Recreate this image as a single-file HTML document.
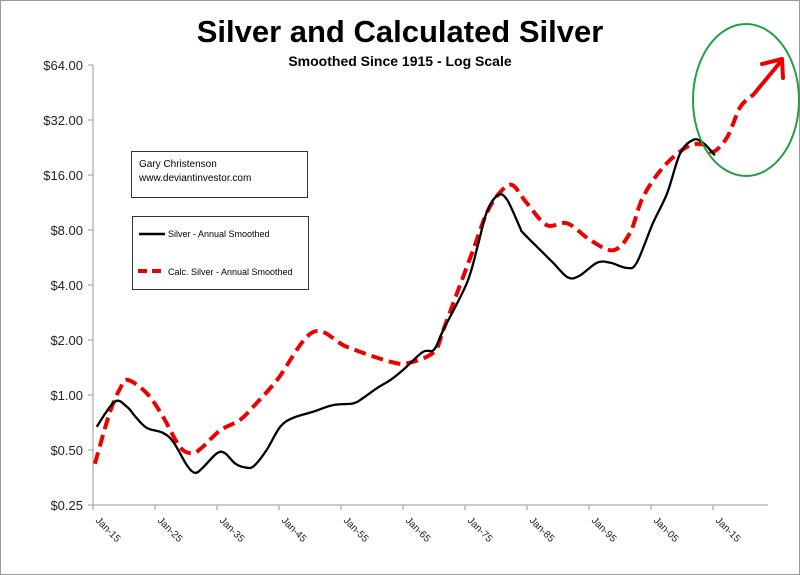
<!DOCTYPE html>
<html><head><meta charset="utf-8"><style>
body{margin:0;background:#fff;}
svg{display:block;font-family:"Liberation Sans",sans-serif;}
</style></head><body>
<svg width="800" height="575" viewBox="0 0 800 575">
<rect x="0.5" y="0.5" width="799" height="574" fill="#fff" stroke="#999"/>
<text x="400" y="42" text-anchor="middle" font-size="31" font-weight="bold">Silver and Calculated Silver</text>
<text x="400" y="66" text-anchor="middle" font-size="14" font-weight="bold">Smoothed Since 1915 - Log Scale</text>
<g id="axes"></g>
<g id="series"></g>
<g>
<rect x="131.5" y="151.5" width="176" height="46" fill="#fff" stroke="#333"/>
<text x="139" y="167" font-size="10">Gary Christenson</text>
<text x="139" y="181" font-size="10">www.deviantinvestor.com</text>
</g>
<g>
<rect x="132.5" y="216.5" width="176" height="73" fill="#fff" stroke="#333"/>
<g><line x1="139" y1="234" x2="165" y2="234" stroke="#000" stroke-width="2.5"/><text x="168" y="237" font-size="9">Silver - Annual Smoothed</text></g>
<g><line x1="138" y1="271" x2="165" y2="271" stroke="#e00" stroke-width="4" stroke-dasharray="9,5"/><text x="168" y="275" font-size="9">Calc. Silver - Annual Smoothed</text></g>
</g>
<ellipse cx="746" cy="100" rx="53" ry="76" fill="none" stroke="#22a040" stroke-width="2"/>
</svg>
<script>
const yTicks=[0.25,0.5,1,2,4,8,16,32,64];
const yTickLabels=["$0.25","$0.50","$1.00","$2.00","$4.00","$8.00","$16.00","$32.00","$64.00"];
const xTickYears=[1915,1925,1935,1945,1955,1965,1975,1985,1995,2005,2015];
const xTickLabels=["Jan-15","Jan-25","Jan-35","Jan-45","Jan-55","Jan-65","Jan-75","Jan-85","Jan-95","Jan-05","Jan-15"];
const silverYears=[1915.6,1918.5,1920.5,1922,1923.7,1926.3,1928,1930.2,1931.5,1932.7,1935,1936.3,1938,1939.8,1941,1943,1945.2,1947.3,1950.5,1953.7,1957,1958.5,1960.8,1963,1965,1968.2,1970,1971.5,1975.3,1977,1978.5,1980.3,1981.8,1983.9,1984.4,1987.6,1989.2,1991.6,1993.5,1996.3,1998.4,2001.1,2002.7,2005.3,2007.6,2009.7,2011.8,2013.4,2015.3];
const silverValues=[0.67,0.92,0.86,0.75,0.66,0.62,0.55,0.41,0.375,0.40,0.48,0.48,0.42,0.40,0.41,0.50,0.67,0.75,0.81,0.88,0.90,0.96,1.09,1.21,1.37,1.72,1.77,2.27,4.1,6.45,10,12.4,11.7,8.2,7.7,6.0,5.3,4.4,4.5,5.3,5.3,4.96,5.3,8.7,12.7,21,24.9,24,20.5];
const calcYears=[1915.3,1917.7,1919.4,1920.6,1923.7,1926.3,1929,1931,1932.7,1935.5,1938.7,1940.8,1944.7,1950.5,1956,1963,1966,1970,1971.5,1973.7,1976.3,1978.5,1980.6,1982.6,1985,1988.2,1991.5,1995.2,1998.9,2001.6,2003.7,2007,2010.8,2013.4,2015,2017.3,2019.4,2021.5];
const calcValues=[0.42,0.80,1.09,1.21,1.02,0.76,0.52,0.48,0.52,0.64,0.73,0.86,1.21,2.21,1.83,1.52,1.5,1.72,2.27,3.6,6.2,9.9,12.8,14.1,11.2,8.5,8.7,7.05,6.2,7.7,12.1,17.7,22.8,23.5,21.4,25.8,37.7,44];
const X0=93,XPY=6.2,Y0=505,PPD=55;
function xs(yr){return X0+(yr-1915)*XPY;}
function ys(v){return Y0-Math.log2(v/0.25)*PPD;}
const NS="http://www.w3.org/2000/svg";
function mk(t,a,p){const e=document.createElementNS(NS,t);for(const k in a)e.setAttribute(k,a[k]);p.appendChild(e);return e;}
const ax=document.getElementById('axes');
const yaxis=mk('line',{x1:X0,y1:ys(64),x2:X0,y2:Y0,stroke:'#999'},ax);


const xaxis=mk('line',{x1:X0,y1:Y0,x2:768,y2:Y0,stroke:'#999'},ax);


yTicks.forEach((v,i)=>{const y=ys(v);
mk('line',{x1:88,y1:y,x2:X0,y2:y,stroke:'#999'},ax);
const t=mk('text',{x:83,y:y+5,'text-anchor':'end','font-size':13,fill:'#222'},ax);t.textContent=yTickLabels[i];

});
xTickYears.forEach((yr,i)=>{const x=xs(yr);
mk('line',{x1:x,y1:Y0,x2:x,y2:Y0+5,stroke:'#999'},ax);
const t=mk('text',{x:x+2,y:Y0+16,'font-size':10,fill:'#222',transform:`rotate(45 ${x+2} ${Y0+16})`},ax);t.textContent=xTickLabels[i];

});
function smooth(px){let d=`M${px[0][0]},${px[0][1]}`;for(let i=0;i<px.length-1;i++){const p0=px[i-1]||px[i],p1=px[i],p2=px[i+1],p3=px[i+2]||p2;
d+=` C${p1[0]+(p2[0]-p0[0])/6},${p1[1]+(p2[1]-p0[1])/6} ${p2[0]-(p3[0]-p1[0])/6},${p2[1]-(p3[1]-p1[1])/6} ${p2[0]},${p2[1]}`;}return d;}
const sg=document.getElementById('series');
const cp=calcYears.map((y,i)=>[xs(y),ys(calcValues[i])]);
const calc=mk('path',{d:smooth(cp),fill:'none',stroke:'#e00',"stroke-width":4,"stroke-dasharray":"12,6"},sg);


const sp=silverYears.map((y,i)=>[xs(y),ys(silverValues[i])]);
const sil=mk('path',{d:smooth(sp),fill:'none',stroke:'#000',"stroke-width":2.3},sg);


const last=cp[cp.length-1];
const arrow=mk('path',{d:`M${last[0]},${last[1]} L782,60 M762,64 L782,59 L783,78`,fill:'none',stroke:'#e00',"stroke-width":4,"stroke-linecap":"round","stroke-linejoin":"round"},sg);


</script>
</body></html>
